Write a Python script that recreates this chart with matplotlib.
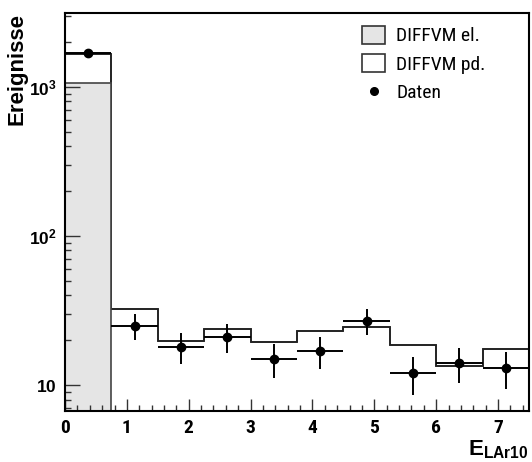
import numpy as np
import matplotlib
matplotlib.use("Agg")
import matplotlib.pyplot as plt
from matplotlib.patches import Patch
from matplotlib.lines import Line2D

# binning in E_LAr10 (10 bins of width 0.75)
edges = np.arange(0, 7.5 + 0.01, 0.75)
centers = 0.5 * (edges[:-1] + edges[1:])

# MC: DIFFVM elastic and DIFFVM proton-dissociative (stacked total)
diffvm_el = [1060, 0, 0, 0, 0, 0, 0, 0, 0, 0]
diffvm_total = [1660, 32.4, 19.7, 23.9, 19.4, 22.9, 24.4, 18.5, 13.4, 17.4]

# data counts
daten = np.array([1680, 25, 18, 21, 15, 17, 27, 12, 14, 13])

plt.rcParams['font.family'] = ['Roboto Condensed', 'Liberation Sans']
plt.rcParams['font.stretch'] = 'condensed'
plt.rcParams['mathtext.fontset'] = 'custom'
plt.rcParams['mathtext.rm'] = 'Liberation Sans'
plt.rcParams['mathtext.bf'] = 'Liberation Sans:bold'
plt.rcParams['mathtext.it'] = 'Liberation Sans:italic'

fig = plt.figure(figsize=(5.32, 4.62), dpi=100)
ax = fig.add_axes([0.1222, 0.1104, 0.8722, 0.8615])
ax.set_yscale('log')
ax.set_axisbelow(False)

line_col = '#222222'
grey = '#e5e5e5'

ax.stairs(diffvm_total, edges, baseline=1.0, fill=True, facecolor='white',
          edgecolor=line_col, linewidth=1.2, zorder=1)
ax.stairs(diffvm_total, edges, baseline=None, color=line_col, linewidth=1.2, zorder=1.2)
ax.bar(centers, diffvm_el, width=0.75, color=grey, edgecolor='#444444',
       linewidth=1.2, zorder=1.5)

ax.errorbar(centers, daten, xerr=0.375, yerr=np.sqrt(daten), fmt='o',
            color='black', markersize=6, elinewidth=1.4, capsize=0, zorder=3)

ax.set_xlim(0, 7.5)
ax.set_ylim(6.7, 3140)

ax.set_xticks(np.arange(0, 8, 1))
ax.set_xticklabels([str(i) for i in range(8)])
ax.set_xticks(np.arange(0, 7.51, 0.2), minor=True)
ax.set_yticks([10, 100, 1000])
ax.set_yticklabels([r'$\mathbf{10}$', r'$\mathbf{10^{2}}$', r'$\mathbf{10^{3}}$'])

ax.tick_params(axis='both', which='both', direction='in', color='#333333', width=1.0)
ax.tick_params(axis='x', which='major', length=9, pad=6, labelsize=14)
ax.tick_params(axis='x', which='minor', length=4.3)
ax.tick_params(axis='y', which='major', length=11, pad=6, labelsize=12.5)
ax.tick_params(axis='y', which='minor', length=4.3)
ax.tick_params(top=False, right=False)
for lab in ax.get_xticklabels():
    lab.set_fontweight('bold')
for sp in ax.spines.values():
    sp.set_linewidth(1.5)
    sp.set_color('black')
    sp.set_zorder(5)

ax.set_xlabel(r'$\mathbf{E_{LAr10}}$', loc='right', fontsize=16)
ax.xaxis.set_label_coords(1.0, -0.07)
ax.set_ylabel('Ereignisse', loc='top', fontsize=16, fontweight='bold',
              family='Liberation Sans', stretch='normal')
ax.yaxis.set_label_coords(-0.08, 1.0)

handles = [
    Patch(facecolor=grey, edgecolor='#333333', linewidth=1.2),
    Patch(facecolor='white', edgecolor='#333333', linewidth=1.2),
    Line2D([], [], marker='o', color='black', linestyle='none', markersize=5.5),
]
labels = ['DIFFVM el.', 'DIFFVM pd.', 'Daten']
ax.legend(handles, labels, loc='upper left', bbox_to_anchor=(0.64, 0.9675),
          frameon=False, fontsize=14, borderpad=0, borderaxespad=0,
          handlelength=1.19, handleheight=1.03, handletextpad=0.57,
          labelspacing=0.46)

plt.savefig('out.png', dpi=100)
